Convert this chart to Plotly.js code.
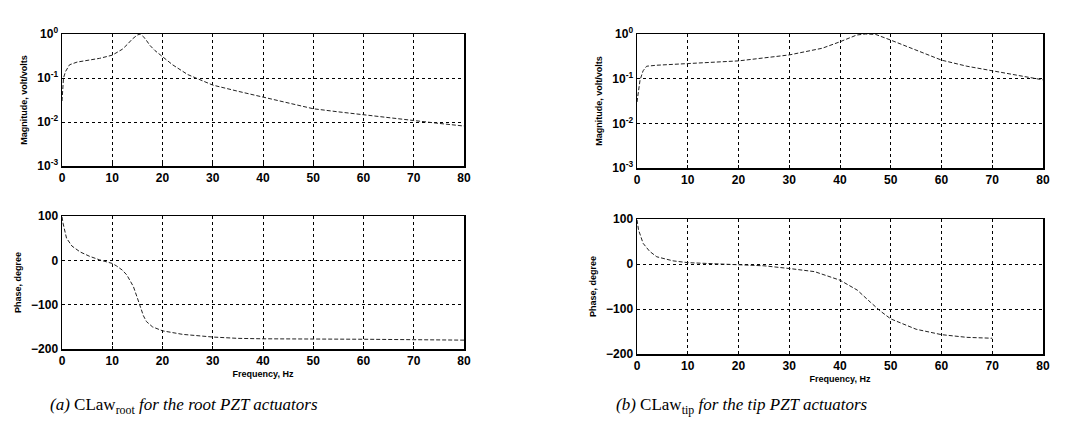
<!DOCTYPE html>
<html>
<head>
<meta charset="utf-8">
<script src="https://cdn.plot.ly/plotly-3.0.1.min.js"></script>
<style>html,body{margin:0;padding:0;background:#fff;}#chart{width:1079px;height:434px;}</style>
</head>
<body>
<div id="chart"></div>
<script>
// (a) root actuators — magnitude
const rootMagFreq = [0, 0.1, 0.3, 0.7, 1.5, 3, 5, 7.5, 10, 12, 13, 14, 15, 15.6, 16.5, 17.5, 18.5, 20, 22, 25, 30, 35, 40, 45, 50, 55, 60, 65, 70, 75, 80];
const rootMag     = [0.03, 0.05, 0.1, 0.14, 0.2, 0.23, 0.25, 0.28, 0.33, 0.45, 0.58, 0.77, 0.95, 1.0, 0.8, 0.55, 0.42, 0.3, 0.2, 0.12, 0.069, 0.05, 0.037, 0.027, 0.02, 0.017, 0.0145, 0.0125, 0.0107, 0.0093, 0.0081];
// (a) root actuators — phase
const rootPhFreq = [0, 0.2, 0.9, 2, 3.6, 5.5, 7.5, 10, 10.9, 12, 12.9, 14.2, 15, 15.5, 16.2, 16.8, 18, 20, 24, 30, 35, 40, 50, 60, 70, 80];
const rootPh     = [98, 84, 50, 32, 19, 9, 1, -7, -13, -22, -33, -59, -85, -103, -125, -138, -150, -159, -167, -173, -176, -177, -177, -178, -179, -180];
// (b) tip actuators — magnitude
const tipMagFreq = [0, 0.3, 0.6, 1.2, 1.9, 3.9, 10, 20, 30, 36.5, 40, 43.3, 45, 47, 50, 55, 60, 65, 70, 75, 80];
const tipMag     = [0.03, 0.06, 0.093, 0.15, 0.19, 0.2, 0.22, 0.25, 0.34, 0.48, 0.67, 0.95, 1.0, 0.98, 0.73, 0.44, 0.26, 0.19, 0.15, 0.12, 0.094];
// (b) tip actuators — phase
const tipPhFreq = [0, 0.3, 1.2, 2.5, 3.9, 7.1, 10, 15, 20, 25, 30, 35, 40, 43.4, 46, 48, 50, 55, 60, 65, 70];
const tipPh     = [98, 76, 46, 28, 16, 7, 3, 1, -1, -4, -10, -17, -36, -58, -85, -105, -122, -145, -157, -163, -165];

const xTicks = [0, 10, 20, 30, 40, 50, 60, 70, 80];
const magTickVals = [0.001, 0.01, 0.1, 1];
const magTickText = ['10<sup>-3</sup>', '10<sup>-2</sup>', '10<sup>-1</sup>', '10<sup>0</sup>'];
const phTicks = [-200, -100, 0, 100];

const tickFont = {family: 'Liberation Sans, Arial, sans-serif', size: 12, color: '#000', weight: 'bold'};
const titleFont = {family: 'Liberation Sans, Arial, sans-serif', size: 9, color: '#000', weight: 'bold'};
const lineStyle = {color: '#222', width: 1, dash: '4px,2px'};

function xa(domain, anchor, withTitle) {
  const a = {
    domain: domain, anchor: anchor, range: [0, 80], tickvals: xTicks,
    showline: true, mirror: true, linecolor: '#000', linewidth: 1.5,
    showgrid: true, gridcolor: '#000', griddash: 'dot', gridwidth: 1,
    ticks: 'inside', ticklen: 3, tickcolor: '#000', tickfont: tickFont,
    zeroline: false, fixedrange: true
  };
  if (withTitle) a.title = {text: 'Frequency, Hz', font: titleFont, standoff: 4};
  return a;
}
function ya(domain, anchor, isLog, title) {
  const a = {
    domain: domain, anchor: anchor,
    showline: true, mirror: true, linecolor: '#000', linewidth: 1.5,
    showgrid: true, gridcolor: '#000', griddash: 'dot', gridwidth: 1,
    ticks: 'inside', ticklen: 3, tickcolor: '#000', tickfont: tickFont,
    zeroline: false, fixedrange: true,
    title: {text: title, font: titleFont, standoff: 8}
  };
  if (isLog) {
    a.type = 'log'; a.range = [-3, 0]; a.tickvals = magTickVals; a.ticktext = magTickText;
  } else {
    a.range = [-200, 100]; a.tickvals = phTicks;
  }
  return a;
}

const traces = [
  {x: rootMagFreq, y: rootMag, xaxis: 'x', yaxis: 'y', mode: 'lines', line: lineStyle, hoverinfo: 'skip'},
  {x: rootPhFreq, y: rootPh, xaxis: 'x2', yaxis: 'y2', mode: 'lines', line: lineStyle, hoverinfo: 'skip'},
  {x: tipMagFreq, y: tipMag, xaxis: 'x3', yaxis: 'y3', mode: 'lines', line: lineStyle, hoverinfo: 'skip'},
  {x: tipPhFreq, y: tipPh, xaxis: 'x4', yaxis: 'y4', mode: 'lines', line: lineStyle, hoverinfo: 'skip'}
];

const W = 1079, H = 434;
const dx = (a, b) => [a / W, b / W];
const dy = (top, bot) => [1 - bot / H, 1 - top / H];

const layout = {
  width: W, height: H, margin: {l: 0, r: 0, t: 0, b: 0},
  paper_bgcolor: '#fff', plot_bgcolor: '#fff', showlegend: false,
  xaxis: xa(dx(62, 464), 'y', false),
  yaxis: ya(dy(34, 166), 'x', true, 'Magnitude, volt/volts'),
  xaxis2: xa(dx(62, 464), 'y2', true),
  yaxis2: ya(dy(216, 349), 'x2', false, 'Phase, degree'),
  xaxis3: xa(dx(637, 1043), 'y3', false),
  yaxis3: ya(dy(34, 168), 'x3', true, 'Magnitude, volt/volts'),
  xaxis4: xa(dx(637, 1043), 'y4', true),
  yaxis4: ya(dy(219, 354), 'x4', false, 'Phase, degree'),
  annotations: [
    {text: '<i>(a) </i>CLaw<sub>root</sub><i> for the root PZT actuators</i>', xref: 'paper', yref: 'paper',
     x: 184 / W, y: 1 - 406 / H, xanchor: 'center', yanchor: 'middle', showarrow: false,
     font: {family: 'Liberation Serif, Times New Roman, serif', size: 17, color: '#000'}},
    {text: '<i>(b) </i>CLaw<sub>tip</sub><i> for the tip PZT actuators</i>', xref: 'paper', yref: 'paper',
     x: 742 / W, y: 1 - 406 / H, xanchor: 'center', yanchor: 'middle', showarrow: false,
     font: {family: 'Liberation Serif, Times New Roman, serif', size: 17, color: '#000'}}
  ]
};

Plotly.newPlot('chart', traces, layout, {staticPlot: true, displayModeBar: false});
</script>
</body>
</html>
